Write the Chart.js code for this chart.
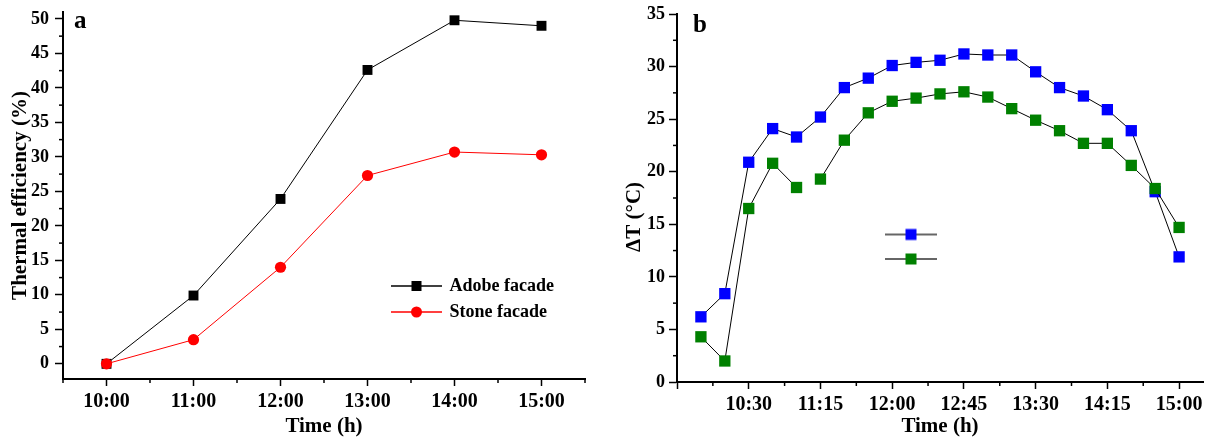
<!DOCTYPE html>
<html><head><meta charset="utf-8">
<script src="https://cdn.jsdelivr.net/npm/chart.js@4.4.1/dist/chart.umd.min.js"></script>
<style>
html,body{margin:0;padding:0;background:#fff;}
#wrap{position:relative;width:1215px;height:441px;overflow:hidden;background:#fff;}
canvas{position:absolute;top:0;}
#ca{left:0;} #cb{left:600px;}
</style></head><body>
<div id="wrap"><canvas id="ca" width="600" height="441"></canvas><canvas id="cb" width="615" height="441"></canvas></div>
<script>
// ---------- Panel a : thermal efficiency ----------
const hoursA = [10, 11, 12, 13, 14, 15];
const adobeEfficiency = [0, 9.9, 23.9, 42.6, 49.8, 49.0];
const stoneEfficiency = [0, 3.5, 14.0, 27.3, 30.7, 30.3];
const xTicksA = [10, 11, 12, 13, 14, 15];
const xTickLabelsA = ['10:00', '11:00', '12:00', '13:00', '14:00', '15:00'];
const xMinorA = [9.5, 10.5, 11.5, 12.5, 13.5, 14.5, 15.5];
const yTicksA = [0, 5, 10, 15, 20, 25, 30, 35, 40, 45, 50];
const yMinorA = [2.5, 7.5, 12.5, 17.5, 22.5, 27.5, 32.5, 37.5, 42.5, 47.5];
const seriesNamesA = ['Adobe facade', 'Stone facade'];

// ---------- Panel b : temperature difference ----------
const hoursB = [10, 10.25, 10.5, 10.75, 11, 11.25, 11.5, 11.75, 12, 12.25, 12.5,
                12.75, 13, 13.25, 13.5, 13.75, 14, 14.25, 14.5, 14.75, 15];
const deltaTBlue = [6.2, 8.4, 20.9, 24.1, 23.3, 25.2, 28.0, 28.9, 30.1, 30.4, 30.6,
                    31.2, 31.1, 31.1, 29.5, 28.0, 27.2, 25.9, 23.9, 18.1, 11.9];
const deltaTGreen = [4.3, 2.0, 16.5, 20.8, 18.5, 19.3, 23.0, 25.6, 26.7, 27.0, 27.4,
                     27.6, 27.1, 26.0, 24.9, 23.9, 22.7, 22.7, 20.6, 18.4, 14.7];
const greenMissingSegmentAfter = [4];
const xTicksB = [9.75, 10.5, 11.25, 12, 12.75, 13.5, 14.25, 15];
const xTickLabelsB = ['', '10:30', '11:15', '12:00', '12:45', '13:30', '14:15', '15:00'];
const xMinorB = [10.125, 10.875, 11.625, 12.375, 13.125, 13.875, 14.625];
const yTicksB = [0, 5, 10, 15, 20, 25, 30, 35];
const yMinorB = [2.5, 7.5, 12.5, 17.5, 22.5, 27.5, 32.5];

const SERIF = "'Liberation Serif', 'Times New Roman', serif";
Chart.defaults.font.family = SERIF;
Chart.defaults.color = '#000';

function symbol(w, h, lineColor, markerColor, shape, size) {
  const c = document.createElement('canvas');
  c.width = w; c.height = h;
  const g = c.getContext('2d');
  g.strokeStyle = lineColor; g.lineWidth = 1.3;
  g.beginPath(); g.moveTo(0, h / 2); g.lineTo(w, h / 2); g.stroke();
  g.fillStyle = markerColor;
  if (shape === 'circle') { g.beginPath(); g.arc(w / 2, h / 2, size / 2, 0, Math.PI * 2); g.fill(); }
  else { g.fillRect(w / 2 - size / 2, h / 2 - size / 2, size, size); }
  return c;
}

const minorTicks = {
  id: 'minorTicks',
  afterDraw(chart, args, o) {
    const ctx = chart.ctx, xs = chart.scales.x, ys = chart.scales.y;
    ctx.save(); ctx.strokeStyle = '#000'; ctx.lineWidth = 1.5;
    (o.x || []).forEach(v => { const p = xs.getPixelForValue(v);
      ctx.beginPath(); ctx.moveTo(p, xs.top); ctx.lineTo(p, xs.top + o.len); ctx.stroke(); });
    (o.y || []).forEach(v => { const p = ys.getPixelForValue(v);
      ctx.beginPath(); ctx.moveTo(ys.right, p); ctx.lineTo(ys.right - o.len, p); ctx.stroke(); });
    ctx.restore();
  }
};
const panelLabel = {
  id: 'panelLabel',
  afterDraw(chart, args, o) {
    const ctx = chart.ctx; ctx.save();
    ctx.font = 'bold 25px ' + SERIF; ctx.fillStyle = '#000';
    ctx.textAlign = 'left'; ctx.textBaseline = 'alphabetic';
    ctx.fillText(o.text, o.x, o.y); ctx.restore();
  }
};
const sideTitle = {
  id: 'sideTitle',
  afterDraw(chart, args, o) {
    if (!o.text) return;
    const ctx = chart.ctx, ys = chart.scales.y; ctx.save();
    ctx.translate(o.x, ys.getPixelForValue(o.value)); ctx.rotate(-Math.PI / 2);
    ctx.font = 'bold 21px ' + SERIF; ctx.fillStyle = '#000';
    ctx.textAlign = 'center'; ctx.textBaseline = 'middle';
    ctx.fillText(o.text, 0, 0); ctx.restore();
  }
};
const placeLegend = {
  id: 'placeLegend',
  afterLayout(chart, args, o) {
    const lg = chart.legend; if (!lg) return;
    lg.left = o.left; lg.top = o.top; lg.width = 300; lg.height = 120;
    lg.right = o.left + 300; lg.bottom = o.top + 120;
  }
};

function fmtHour(v) { const h = Math.floor(v); const m = Math.round((v - h) * 60); return h + ':' + String(m).padStart(2, '0'); }

function axisX(min, max, ticks, labels, height, titlePad) {
  return {
    type: 'linear', min, max,
    afterBuildTicks: s => { s.ticks = ticks.map(v => ({ value: v })); },
    afterFit: s => { s.height = height; s.paddingLeft = 0; s.paddingRight = 0; },
    ticks: { autoSkip: false, maxRotation: 0, padding: 4, color: '#000',
      font: { size: 20, weight: 'bold' },
      callback: v => { const i = ticks.indexOf(v); return i >= 0 ? labels[i] : fmtHour(v); } },
    grid: { drawOnChartArea: false, tickLength: 7, tickWidth: 1.5, tickColor: '#000' },
    border: { display: true, color: '#000', width: 2 },
    title: { display: true, text: 'Time (h)', color: '#000', font: { size: 21, weight: 'bold' }, padding: { top: 0, bottom: titlePad } }
  };
}
function axisY(min, max, ticks, width, title, titlePad, labelPad) {
  return {
    type: 'linear', min, max,
    afterBuildTicks: s => { s.ticks = ticks.map(v => ({ value: v })); },
    afterFit: s => { s.width = width; s.paddingTop = 0; s.paddingBottom = 0; },
    ticks: { padding: labelPad, color: '#000', font: { size: 18, weight: 'bold' }, callback: v => String(v) },
    grid: { drawOnChartArea: false, tickLength: 8, tickWidth: 1.5, tickColor: '#000' },
    border: { display: true, color: '#000', width: 2 },
    title: { display: !!title, text: title, color: '#000', font: { size: 21, weight: 'bold' }, padding: { top: titlePad, bottom: 0 } }
  };
}

// ---------- Chart a ----------
const symA = [symbol(51, 14, '#000', '#000', 'rect', 10), symbol(51, 14, '#ff0000', '#ff0000', 'circle', 11)];
new Chart(document.getElementById('ca'), {
  type: 'line',
  data: { datasets: [
    { label: seriesNamesA[0], data: hoursA.map((h, i) => ({ x: h, y: adobeEfficiency[i] })),
      borderColor: '#000', borderWidth: 1, pointStyle: 'rect', pointRadius: 7, pointBackgroundColor: '#000',
      pointBorderWidth: 0, order: 1, clip: false },
    { label: seriesNamesA[1], data: hoursA.map((h, i) => ({ x: h, y: stoneEfficiency[i] })),
      borderColor: '#ff0000', borderWidth: 1, pointStyle: 'circle', pointRadius: 5.6, pointBackgroundColor: '#ff0000',
      pointBorderWidth: 0, order: 0, clip: false }
  ] },
  options: {
    responsive: false, animation: false, events: [], devicePixelRatio: 1,
    layout: { padding: { left: 0, top: 12, right: 15, bottom: 0 } },
    elements: { line: { tension: 0 } },
    scales: { x: axisX(9.5, 15.5, xTicksA, xTickLabelsA, 62, 2), y: axisY(-2.2, 51, yTicksA, 63, 'Thermal efficiency (%)', 8, 6) },
    plugins: {
      tooltip: { enabled: false },
      legend: { position: 'chartArea', align: 'start',
        labels: { usePointStyle: true, pointStyleWidth: 48, padding: 8, color: '#000',
          font: { size: 18, weight: 'bold' },
          generateLabels: ch => ch.data.datasets.map((d, i) => ({ text: d.label, pointStyle: symA[i], fontColor: '#000',
            fillStyle: d.pointBackgroundColor, strokeStyle: d.borderColor, lineWidth: 0, hidden: false, datasetIndex: i })) } },
      placeLegend: { left: 384.5, top: 269 },
      minorTicks: { x: xMinorA, y: yMinorA, len: 4 },
      panelLabel: { text: 'a', x: 74, y: 28 },
      sideTitle: { text: '' }
    }
  },
  plugins: [minorTicks, panelLabel, placeLegend, sideTitle]
});

// ---------- Chart b ----------
const symB = [symbol(52, 14, '#333', '#0000ff', 'rect', 11), symbol(52, 14, '#333', '#008000', 'rect', 11)];
new Chart(document.getElementById('cb'), {
  type: 'line',
  data: { datasets: [
    { label: 'ΔT blue', data: hoursB.map((h, i) => ({ x: h, y: deltaTBlue[i] })),
      borderColor: '#000', borderWidth: 1, pointStyle: 'rect', pointRadius: 8, pointBackgroundColor: '#0000ff',
      pointBorderWidth: 0, order: 1, clip: false },
    { label: 'ΔT green', data: hoursB.map((h, i) => ({ x: h, y: deltaTGreen[i] })),
      borderColor: '#000', borderWidth: 1, pointStyle: 'rect', pointRadius: 8, pointBackgroundColor: '#008000',
      pointBorderWidth: 0, order: 0, clip: false,
      segment: { borderColor: c => greenMissingSegmentAfter.includes(c.p0DataIndex) ? 'rgba(0,0,0,0)' : undefined } }
  ] },
  options: {
    responsive: false, animation: false, events: [], devicePixelRatio: 1,
    layout: { padding: { left: 0, top: 14, right: 12, bottom: 0 } },
    elements: { line: { tension: 0 } },
    scales: { x: axisX(9.75, 15.25, xTicksB, xTickLabelsB, 59, 2), y: axisY(0, 35, yTicksB, 77, '', 0, 4) },
    plugins: {
      tooltip: { enabled: false },
      legend: { position: 'chartArea', align: 'start',
        labels: { usePointStyle: true, pointStyleWidth: 52, padding: 8.5, color: '#000',
          font: { size: 16, weight: 'bold' },
          generateLabels: ch => ch.data.datasets.map((d, i) => ({ text: '', pointStyle: symB[i], fontColor: '#000',
            fillStyle: d.pointBackgroundColor, strokeStyle: d.borderColor, lineWidth: 0, hidden: false, datasetIndex: i })) } },
      placeLegend: { left: 276.5, top: 218 },
      minorTicks: { x: xMinorB, y: yMinorB, len: 4 },
      panelLabel: { text: 'b', x: 93, y: 32 },
      sideTitle: { text: 'ΔT (°C)', x: 35, value: 15.7 }
    }
  },
  plugins: [minorTicks, panelLabel, placeLegend, sideTitle]
});
</script>
</body></html>
